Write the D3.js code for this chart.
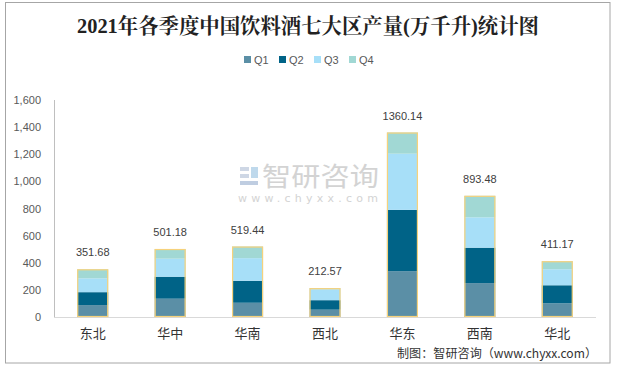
<!DOCTYPE html>
<html><head><meta charset="utf-8">
<script src="https://cdn.jsdelivr.net/npm/d3@7"></script>
<style>body{margin:0;background:#fff}svg{display:block}</style>
</head><body>
<svg id="c" width="617" height="368"></svg>
<script>
const categories = ["东北","华中","华南","西北","华东","西南","华北"];
const seriesNames = ["Q1","Q2","Q3","Q4"];
const q1 = [88, 135, 105, 54, 338, 250, 101];
const q2 = [95, 162, 162, 70, 452, 261, 133];
const q3 = [102, 133, 167, 80, 414, 224, 118];
const q4 = [66.68, 71.18, 85.44, 8.57, 156.14, 158.48, 59.17];
const totalLabels = ["351.68","501.18","519.44","212.57","1360.14","893.48","411.17"];
const yTicks = [0,200,400,600,800,1000,1200,1400,1600];
const colors = ["#5b8fa6","#006387","#a7dff8","#a1d8d4"];

const svg = d3.select("#c");
svg.append("rect").attr("x",5.5).attr("y",2.5).attr("width",604.5).attr("height",360.5)
  .attr("fill","#fff").attr("stroke","#a6a6a6");

const cjk = "'Noto Sans CJK SC','Noto Sans',sans-serif";
svg.append("text").attr("x",308).attr("y",33).attr("text-anchor","middle")
  .attr("font-family","'Liberation Serif','Noto Serif CJK SC','Noto Sans CJK SC',serif")
  .attr("font-weight","bold").attr("font-size",21).attr("fill","#222")
  .attr("textLength",462).attr("lengthAdjust","spacingAndGlyphs")
  .text("2021年各季度中国饮料酒七大区产量(万千升)统计图");

const x = d3.scaleBand().domain(categories).range([54,596]).paddingInner(0.6).paddingOuter(0.3);
const y = d3.scaleLinear().domain([0,1600]).range([317,100]);

// watermark
const wm = svg.append("g").attr("opacity",0.9);
wm.append("rect").attr("x",240).attr("y",167).attr("width",9).attr("height",4).attr("fill","#c9d3e3");
wm.append("rect").attr("x",240).attr("y",174).attr("width",9).attr("height",4).attr("fill","#c9d3e3");
wm.append("rect").attr("x",240).attr("y",181).attr("width",18).attr("height",4).attr("fill","#b9c8de");
wm.append("rect").attr("x",251).attr("y",167).attr("width",7).attr("height",11).attr("fill","#b9d5ea");
wm.append("text").attr("x",262).attr("y",186).attr("font-family",cjk).attr("font-size",26)
  .attr("fill","#cfcfcf").attr("textLength",117).attr("lengthAdjust","spacingAndGlyphs").text("智研咨询");
wm.append("text").attr("x",238).attr("y",202).attr("font-family","'DejaVu Sans',sans-serif").attr("font-size",11)
  .attr("fill","#cfcfcf").attr("textLength",140).attr("lengthAdjust","spacing").text("www.chyxx.com");

// axes
svg.append("line").attr("x1",54.5).attr("x2",54.5).attr("y1",100).attr("y2",317).attr("stroke","#bfbfbf");
svg.append("line").attr("x1",54).attr("x2",596).attr("y1",317.5).attr("y2",317.5).attr("stroke","#d9d9d9");
const yAxis = d3.axisLeft(y).tickValues(yTicks).tickSize(0).tickPadding(13).tickFormat(d3.format(","));
const yg = svg.append("g").attr("transform","translate(54,0)").call(yAxis);
yg.select(".domain").remove();
yg.selectAll("text").attr("font-family","'Liberation Sans',Arial,sans-serif").attr("font-size",11).attr("fill","#595959");

const xAxis = d3.axisBottom(x).tickSize(0).tickPadding(12);
const xg = svg.append("g").attr("transform","translate(0,317)").call(xAxis);
xg.select(".domain").remove();
xg.selectAll("text").attr("font-family",cjk).attr("font-size",13).attr("fill","#333");

// stacked bars
const data = categories.map((c,i)=>({cat:c,Q1:q1[i],Q2:q2[i],Q3:q3[i],Q4:q4[i]}));
const stack = d3.stack().keys(seriesNames)(data);
svg.append("g").selectAll("g").data(stack).join("g").attr("fill",(d,i)=>colors[i])
  .selectAll("rect").data(d=>d).join("rect")
  .attr("x",d=>x(d.data.cat)).attr("width",x.bandwidth())
  .attr("y",d=>y(d[1])).attr("height",d=>y(d[0])-y(d[1]));
const tops = stack[3];
svg.append("g").selectAll("rect").data(tops).join("rect")
  .attr("x",d=>x(d.data.cat)+0.5).attr("width",x.bandwidth()-1)
  .attr("y",d=>y(d[1])+0.5).attr("height",d=>y(0)-y(d[1])-1)
  .attr("fill","none").attr("stroke","#f6d27c").attr("stroke-width",1.2);
svg.append("g").selectAll("text").data(tops).join("text")
  .attr("x",d=>x(d.data.cat)+x.bandwidth()/2).attr("y",d=>y(d[1])-13)
  .attr("text-anchor","middle").attr("font-family","'Liberation Sans',Arial,sans-serif")
  .attr("font-size",11).attr("fill","#404040").text((d,i)=>totalLabels[i]);

// legend
const lg = svg.append("g");
const lx = [244,279,314,349];
seriesNames.forEach((s,i)=>{
  lg.append("rect").attr("x",lx[i]).attr("y",56).attr("width",7).attr("height",7).attr("fill",colors[i]);
  lg.append("text").attr("x",lx[i]+10).attr("y",63.5).attr("font-family","'Liberation Sans',Arial,sans-serif")
    .attr("font-size",11).attr("fill","#595959").text(s);
});

// source
svg.append("text").attr("x",397).attr("y",358).attr("font-family",cjk).attr("font-size",12)
  .attr("fill","#333").attr("textLength",200).attr("lengthAdjust","spacingAndGlyphs")
  .text("制图：智研咨询（www.chyxx.com）");
</script>
</body></html>
